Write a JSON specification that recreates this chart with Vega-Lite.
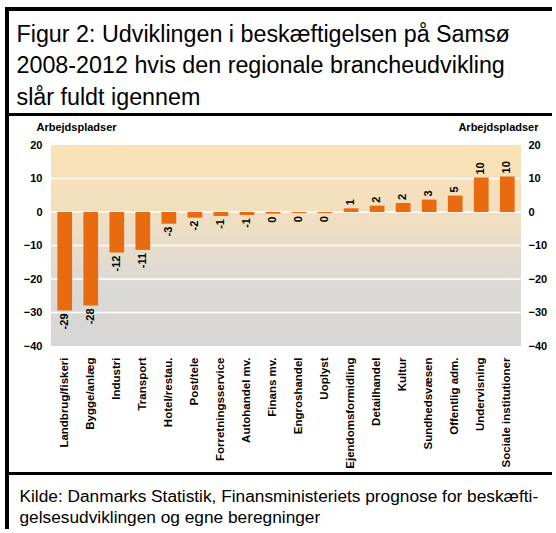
{
  "$schema": "https://vega.github.io/schema/vega-lite/v6.json",
  "background": "white",
  "padding": {"left": 7, "top": 9, "right": 0, "bottom": 0},
  "width": 545,
  "height": 520,
  "config": {
    "view": {"stroke": "black", "strokeWidth": 4, "strokeDash": [545, 1065, 520], "strokeCap": "square"},
    "font": "Liberation Sans"
  },
  "datasets": {
    "bars": [
      {"k": "Landbrug/fiskeri", "v": -29.4, "lab": "-29"},
      {"k": "Bygge/anlæg", "v": -27.9, "lab": "-28"},
      {"k": "Industri", "v": -12.1, "lab": "-12"},
      {"k": "Transport", "v": -11.3, "lab": "-11"},
      {"k": "Hotel/restau.", "v": -3.5, "lab": "-3"},
      {"k": "Post/tele", "v": -1.7, "lab": "-2"},
      {"k": "Forretningsservice", "v": -1.2, "lab": "-1"},
      {"k": "Autohandel mv.", "v": -0.9, "lab": "-1"},
      {"k": "Finans mv.", "v": -0.5, "lab": "0"},
      {"k": "Engroshandel", "v": -0.3, "lab": "0"},
      {"k": "Uoplyst", "v": -0.3, "lab": "0"},
      {"k": "Ejendomsformidling", "v": 1.1, "lab": "1"},
      {"k": "Detailhandel", "v": 1.9, "lab": "2"},
      {"k": "Kultur", "v": 2.7, "lab": "2"},
      {"k": "Sundhedsvæsen", "v": 3.7, "lab": "3"},
      {"k": "Offentlig adm.", "v": 4.9, "lab": "5"},
      {"k": "Undervisning", "v": 10.3, "lab": "10"},
      {"k": "Sociale institutioner", "v": 10.6, "lab": "10"}
    ],
    "grid": [{"v": 10}, {"v": 0}, {"v": -10}, {"v": -20}, {"v": -30}],
    "bg": [{"from": 20, "to": -40}]
  },
  "layer": [
    {
      "data": {"name": "bg"},
      "mark": {
        "type": "rect",
        "fill": {
          "gradient": "linear",
          "x1": 0, "y1": 0, "x2": 0, "y2": 1,
          "stops": [
            {"offset": 0, "color": "#fae2b3"},
            {"offset": 0.33, "color": "#f2dfc0"},
            {"offset": 0.67, "color": "#dddad4"},
            {"offset": 1, "color": "#d6d6d6"}
          ]
        }
      },
      "encoding": {
        "x": {
          "datum": 0, "type": "quantitative",
          "scale": {"domain": [-0.093617, 1.065957], "range": [0, 545], "nice": false, "zero": false},
          "axis": {
            "orient": "bottom", "offset": -56,
            "domain": true, "domainColor": "black", "domainWidth": 3, "domainCap": "square",
            "ticks": false, "labels": false, "grid": false,
            "title": ["Kilde: Danmarks Statistik, Finansministeriets prognose for beskæfti-", "gelsesudviklingen og egne beregninger"],
            "titleX": 12, "titleY": 28, "titleAlign": "left", "titleBaseline": "alphabetic", "titleAngle": 0,
            "titleFont": "Liberation Sans", "titleFontSize": 17.3, "titleFontWeight": "normal", "titleLineHeight": 21, "titleColor": "black"
          }
        },
        "x2": {"datum": 1},
        "y": {"field": "from", "type": "quantitative", "scale": {"domain": [-40, 20], "range": [337, 136], "nice": false, "zero": false}, "axis": null},
        "y2": {"field": "to"}
      }
    },
    {
      "data": {"name": "grid"},
      "mark": {"type": "rule", "color": "white", "strokeWidth": 1.5},
      "encoding": {
        "x": {
          "datum": 0, "type": "quantitative",
          "scale": {"domain": [-0.093617, 1.065957], "range": [0, 545], "nice": false, "zero": false},
          "axis": {
            "orient": "top", "offset": -105,
            "domain": true, "domainColor": "black", "domainWidth": 3, "domainCap": "square",
            "ticks": false, "labels": false, "grid": false,
            "title": ["Figur 2: Udviklingen i beskæftigelsen på Samsø", "2008-2012 hvis den regionale brancheudvikling", "slår fuldt igennem"],
            "titleX": 9, "titleY": -73, "titleAlign": "left", "titleBaseline": "alphabetic", "titleAngle": 0,
            "titleFont": "Liberation Sans", "titleFontSize": 23.3, "titleFontWeight": "normal", "titleLineHeight": 31.5, "titleColor": "black"
          }
        },
        "x2": {"datum": 1},
        "y": {
          "field": "v", "type": "quantitative",
          "scale": {"domain": [-40, 20], "range": [337, 136], "nice": false, "zero": false},
          "axis": {
            "orient": "right", "offset": -31, "values": [20, 10, 0, -10, -20, -30, -40],
            "domain": false, "ticks": false, "grid": false, "labelPadding": 7,
            "labelFont": "Liberation Sans", "labelFontWeight": "bold", "labelFontSize": 11, "labelColor": "black",
            "labelFlush": false,
            "title": "Arbejdspladser", "titleAngle": 0, "titleAlign": "right", "titleBaseline": "middle",
            "titleX": 17, "titleY": 118.5, "titleFont": "Liberation Sans", "titleFontWeight": "bold", "titleFontSize": 11, "titleColor": "black"
          }
        }
      }
    },
    {
      "data": {"name": "bars"},
      "encoding": {
        "x": {
          "field": "k", "type": "nominal",
          "scale": {
            "type": "band",
            "domain": ["Landbrug/fiskeri", "Bygge/anlæg", "Industri", "Transport", "Hotel/restau.", "Post/tele", "Forretningsservice", "Autohandel mv.", "Finans mv.", "Engroshandel", "Uoplyst", "Ejendomsformidling", "Detailhandel", "Kultur", "Sundhedsvæsen", "Offentlig adm.", "Undervisning", "Sociale institutioner"],
            "range": [44, 514], "paddingInner": 0.434, "paddingOuter": 0.244
          },
          "axis": {
            "orient": "bottom", "offset": -183,
            "domain": false, "ticks": false, "grid": false,
            "labelAngle": -90, "labelPadding": 11, "labelOverlap": false,
            "labelFont": "Liberation Sans", "labelFontWeight": "bold", "labelFontSize": 11.5, "labelColor": "black",
            "title": null
          }
        },
        "y": {
          "field": "v", "type": "quantitative",
          "scale": {"domain": [-40, 20], "range": [337, 136], "nice": false, "zero": false},
          "axis": {
            "orient": "left", "offset": -44, "values": [20, 10, 0, -10, -20, -30, -40],
            "domain": false, "ticks": false, "grid": false, "labelPadding": 9,
            "labelFont": "Liberation Sans", "labelFontWeight": "bold", "labelFontSize": 11, "labelColor": "black",
            "labelFlush": false,
            "title": "Arbejdspladser", "titleAngle": 0, "titleAlign": "left", "titleBaseline": "middle",
            "titleX": -15, "titleY": 118.5, "titleFont": "Liberation Sans", "titleFontWeight": "bold", "titleFontSize": 11, "titleColor": "black"
          }
        }
      },
      "layer": [
        {"mark": {"type": "bar", "color": "#e96b10"}},
        {
          "transform": [{"filter": "datum.v <= 0"}],
          "mark": {"type": "text", "angle": 270, "align": "right", "baseline": "middle", "dx": -3, "font": "Liberation Sans", "fontWeight": "bold", "fontSize": 11, "color": "black"},
          "encoding": {"text": {"field": "lab"}}
        },
        {
          "transform": [{"filter": "datum.v > 0"}],
          "mark": {"type": "text", "angle": 270, "align": "left", "baseline": "middle", "dx": 3, "font": "Liberation Sans", "fontWeight": "bold", "fontSize": 11, "color": "black"},
          "encoding": {"text": {"field": "lab"}}
        }
      ]
    }
  ],
  "resolve": {
    "scale": {"x": "independent", "y": "independent"},
    "axis": {"x": "independent", "y": "independent"}
  }
}
